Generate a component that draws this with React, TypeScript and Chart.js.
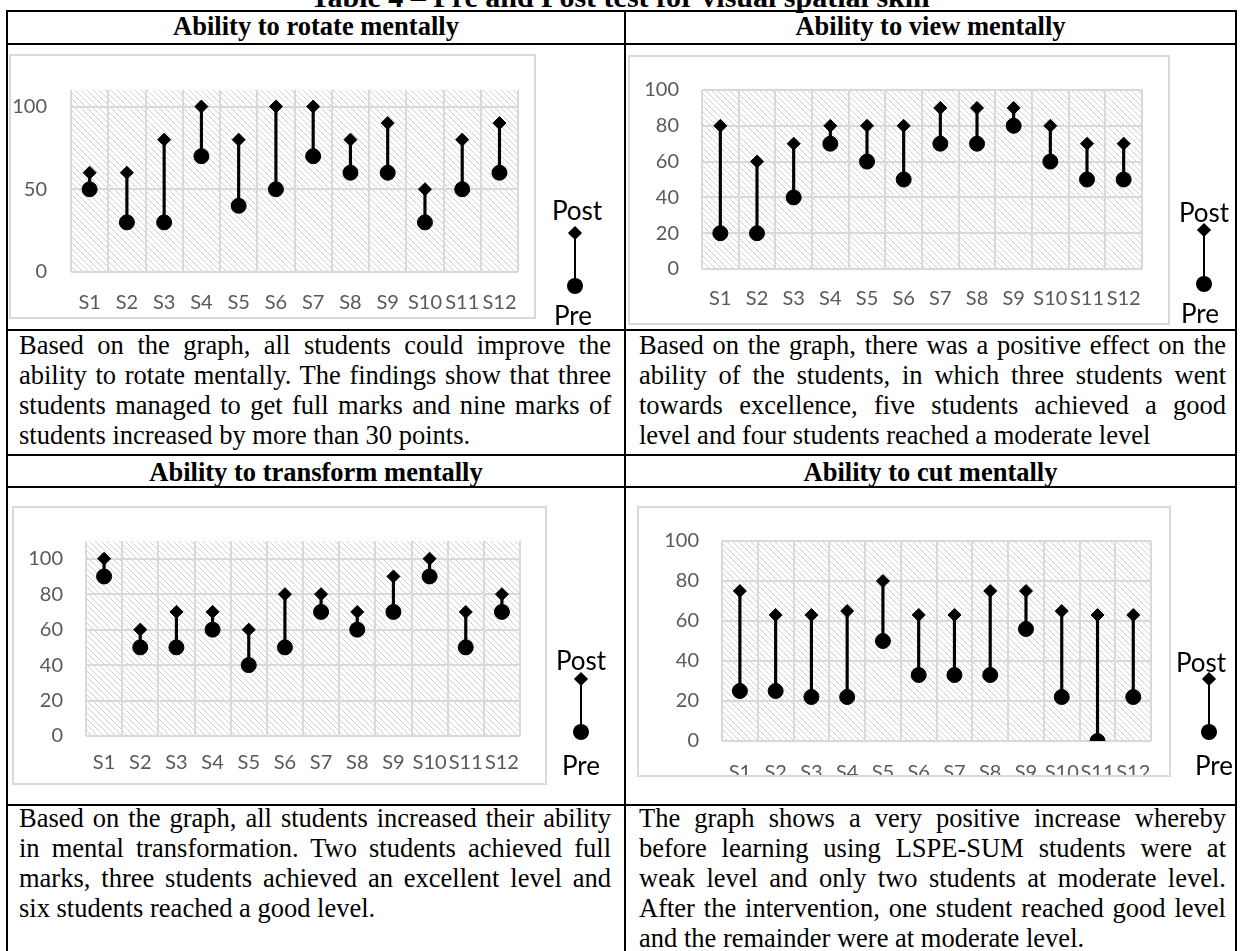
import React, { useEffect, useRef } from 'react';
import { Chart, registerables } from 'chart.js';
Chart.register(...registerables);

const STUDENTS = ['S1', 'S2', 'S3', 'S4', 'S5', 'S6', 'S7', 'S8', 'S9', 'S10', 'S11', 'S12'];
const ROTATE_PRE = [50, 30, 30, 70, 40, 50, 70, 60, 60, 30, 50, 60];
const ROTATE_POST = [60, 60, 80, 100, 80, 100, 100, 80, 90, 50, 80, 90];
const VIEW_PRE = [20, 20, 40, 70, 60, 50, 70, 70, 80, 60, 50, 50];
const VIEW_POST = [80, 60, 70, 80, 80, 80, 90, 90, 90, 80, 70, 70];
const TRANSFORM_PRE = [90, 50, 50, 60, 40, 50, 70, 60, 70, 90, 50, 70];
const TRANSFORM_POST = [100, 60, 70, 70, 60, 80, 80, 70, 90, 100, 70, 80];
const CUT_PRE = [25, 25, 22, 22, 50, 33, 33, 33, 56, 22, 0, 22];
const CUT_POST = [75, 63, 63, 65, 80, 63, 63, 75, 75, 65, 63, 63];

const CAPTION = 'Table 4 \u2013 Pre and Post test for visual spatial skill';
const HEAD_1 = ['Ability to rotate mentally', 'Ability to view mentally'];
const HEAD_2 = ['Ability to transform mentally', 'Ability to cut mentally'];
const TEXT_ROTATE = [
  'Based on the graph, all students could improve the',
  'ability to rotate mentally. The findings show that three',
  'students managed to get full marks and nine marks of',
  'students increased by more than 30 points.',
];
const TEXT_VIEW = [
  'Based on the graph, there was a positive effect on the',
  'ability of the students, in which three students went',
  'towards excellence, five students achieved a good',
  'level and four students reached a moderate level',
];
const TEXT_TRANSFORM = [
  'Based on the graph, all students increased their ability',
  'in mental transformation. Two students achieved full',
  'marks, three students achieved an excellent level and',
  'six students reached a good level.',
];
const TEXT_CUT = [
  'The graph shows a very positive increase whereby',
  'before learning using LSPE-SUM students were at',
  'weak level and only two students at moderate level.',
  'After the intervention, one student reached good level',
  'and the remainder were at moderate level.',
];

const TICK_FONT = { family: 'Lato', size: 20 };
const TICK_COLOR = '#595959';
const GRID_COLOR = '#d9d9d9';
const SERIF = '"Liberation Serif", "Times New Roman", serif';

const hatchPlugin = {
  id: 'hatchBg',
  beforeDraw(chart: any) {
    const { ctx, chartArea } = chart;
    if (!chartArea) return;
    const s = 6;
    const c = document.createElement('canvas');
    c.width = s;
    c.height = s;
    const g = c.getContext('2d')!;
    g.strokeStyle = '#d2d2d2';
    g.lineWidth = 1;
    g.beginPath();
    for (let k = -1; k <= 1; k++) {
      g.moveTo(k * s, 0);
      g.lineTo(k * s + s, s);
    }
    g.stroke();
    const pat = ctx.createPattern(c, 'repeat');
    ctx.save();
    ctx.fillStyle = '#ffffff';
    ctx.fillRect(0, 0, chart.width, chart.height);
    ctx.fillStyle = pat;
    ctx.fillRect(chartArea.left, chartArea.top, chartArea.right - chartArea.left, chartArea.bottom - chartArea.top);
    ctx.restore();
  },
};

type Box = { x: number; y: number; w: number; h: number };
type Area = { left: number; right: number; top: number; bottom: number };

function DumbbellChart(props: {
  pre: number[];
  post: number[];
  yMax: number;
  yStep: number;
  box: Box;
  canvasH?: number;
  area: Area;
  yLabelRight: number;
  xLabelY: number;
}) {
  const { pre, post, yMax, yStep, box, area, yLabelRight, xLabelY } = props;
  const ch = props.canvasH ?? box.h;
  const ref = useRef<HTMLCanvasElement>(null);
  useEffect(() => {
    const aLeft = area.left - box.x;
    const aRight = area.right - box.x;
    const aTop = area.top - box.y;
    const aBottom = area.bottom - box.y;
    const chart = new Chart(ref.current!, {
      type: 'bar',
      data: {
        labels: STUDENTS,
        datasets: [
          {
            type: 'bar',
            data: pre.map((p, i) => [p, post[i]]) as any,
            backgroundColor: '#000',
            borderWidth: 0,
            barThickness: 2.5,
            order: 3,
          } as any,
          {
            type: 'line',
            data: pre,
            showLine: false,
            pointStyle: 'circle',
            pointRadius: 7.5,
            pointBorderWidth: 1,
            backgroundColor: '#000',
            borderColor: '#000',
            order: 1,
          } as any,
          {
            type: 'line',
            data: post,
            showLine: false,
            pointStyle: 'rectRot',
            pointRadius: 6.5,
            pointBorderWidth: 1,
            backgroundColor: '#000',
            borderColor: '#000',
            order: 1,
          } as any,
        ],
      },
      options: {
        responsive: false,
        animation: false,
        events: [],
        layout: { padding: { left: 0, top: aTop, right: box.w - aRight, bottom: 0 } },
        plugins: { legend: { display: false }, tooltip: { enabled: false } },
        scales: {
          x: {
            grid: { color: GRID_COLOR, lineWidth: 2, offset: true, drawTicks: false },
            border: { display: false },
            ticks: {
              autoSkip: false,
              maxRotation: 0,
              minRotation: 0,
              padding: xLabelY - area.bottom - 12,
              font: TICK_FONT,
              color: TICK_COLOR,
            },
            afterFit: (s: any) => {
              s.height = ch - aBottom;
            },
          },
          y: {
            min: 0,
            max: yMax,
            grid: { color: GRID_COLOR, lineWidth: 2, drawTicks: false },
            border: { display: false },
            ticks: {
              stepSize: yStep,
              includeBounds: false,
              padding: area.left - yLabelRight,
              font: TICK_FONT,
              color: TICK_COLOR,
            },
            afterFit: (s: any) => {
              s.width = aLeft;
            },
          },
        },
      } as any,
      plugins: [hatchPlugin],
    });
    return () => chart.destroy();
  }, []);
  return (
    <>
      <div style={{ position: 'absolute', left: box.x, top: box.y, width: box.w, height: box.h, overflow: 'hidden', background: '#fff' }}>
        <canvas ref={ref} width={box.w} height={ch} style={{ display: 'block', width: box.w, height: ch }} />
      </div>
      <div
        style={{
          position: 'absolute',
          left: box.x,
          top: box.y,
          width: box.w,
          height: box.h,
          border: '2px solid #d9d9d9',
          boxSizing: 'border-box',
          pointerEvents: 'none',
        }}
      />
    </>
  );
}

function PrePostKey(props: { postX: number; preX: number; x: number; postY: number; diaY: number; circY: number; preY: number }) {
  const { postX, preX, x, postY, diaY, circY, preY } = props;
  const txt = (t: string, cx: number, cy: number) => (
    <div
      style={{
        position: 'absolute',
        left: cx - 40,
        width: 80,
        top: cy - 15,
        height: 30,
        lineHeight: '30px',
        textAlign: 'center',
        fontFamily: 'Lato',
        fontSize: 26,
        color: '#000',
      }}
    >
      {t}
    </div>
  );
  return (
    <>
      {txt('Post', postX, postY)}
      <div style={{ position: 'absolute', left: x - 1.25, width: 2.5, top: diaY, height: circY - diaY, background: '#000' }} />
      <div style={{ position: 'absolute', left: x - 5, top: diaY - 5, width: 10, height: 10, background: '#000', transform: 'rotate(45deg)' }} />
      <div style={{ position: 'absolute', left: x - 8, top: circY - 8, width: 16, height: 16, borderRadius: '50%', background: '#000' }} />
      {txt('Pre', preX, preY)}
    </>
  );
}

function Para(props: { x: number; y: number; w: number; lines: string[] }) {
  const { x, y, w, lines } = props;
  return (
    <div style={{ position: 'absolute', left: x, top: y, width: w, fontFamily: SERIF, fontSize: 26.5, lineHeight: '30px', color: '#000' }}>
      {lines.map((l, i) => {
        const last = i === lines.length - 1;
        return (
          <div key={i} style={{ textAlign: last ? 'left' : 'justify', textAlignLast: last ? 'left' : 'justify' } as any}>
            {l}
          </div>
        );
      })}
    </div>
  );
}

function Head(props: { x1: number; x2: number; y: number; text: string }) {
  return (
    <div
      style={{
        position: 'absolute',
        left: props.x1,
        width: props.x2 - props.x1,
        top: props.y,
        lineHeight: '30px',
        textAlign: 'center',
        fontFamily: SERIF,
        fontWeight: 'bold',
        fontSize: 26.5,
        color: '#000',
        whiteSpace: 'nowrap',
      }}
    >
      {props.text}
    </div>
  );
}

const HL = (y: number) => <div style={{ position: 'absolute', left: 6, width: 1231, top: y, height: 2, background: '#000' }} />;
const VL = (x: number) => <div style={{ position: 'absolute', left: x, width: 2, top: 10, height: 960, background: '#000' }} />;

export default function App() {
  return (
    <div style={{ position: 'absolute', left: 0, top: 0, width: 1240, height: 951, overflow: 'hidden', background: '#fff' }}>
      <div
        style={{
          position: 'absolute',
          left: 0,
          width: 1240,
          top: -18,
          lineHeight: '30px',
          textAlign: 'center',
          fontFamily: SERIF,
          fontWeight: 'bold',
          fontSize: 30,
          whiteSpace: 'nowrap',
        }}
      >
        {CAPTION}
      </div>
      {HL(10)}
      {HL(43)}
      {HL(329)}
      {HL(454)}
      {HL(486)}
      {HL(804)}
      {VL(6)}
      {VL(624)}
      {VL(1235)}

      <Head x1={8} x2={624} y={11} text={HEAD_1[0]} />
      <Head x1={626} x2={1235} y={11} text={HEAD_1[1]} />
      <Head x1={8} x2={624} y={457} text={HEAD_2[0]} />
      <Head x1={626} x2={1235} y={457} text={HEAD_2[1]} />

      <Para x={19} y={330} w={592} lines={TEXT_ROTATE} />
      <Para x={639} y={330} w={587} lines={TEXT_VIEW} />
      <Para x={19} y={803} w={592} lines={TEXT_TRANSFORM} />
      <Para x={639} y={803} w={587} lines={TEXT_CUT} />

      <DumbbellChart
        pre={ROTATE_PRE}
        post={ROTATE_POST}
        yMax={110}
        yStep={50}
        box={{ x: 9, y: 54, w: 527, h: 265 }}
        area={{ left: 71, right: 524, top: 89, bottom: 272 }}
        yLabelRight={47}
        xLabelY={303}
      />
      <PrePostKey postX={577} preX={573} x={575} postY={210} diaY={233} circY={286} preY={315} />

      <DumbbellChart
        pre={VIEW_PRE}
        post={VIEW_POST}
        yMax={100}
        yStep={20}
        box={{ x: 628, y: 55, w: 542, h: 270 }}
        area={{ left: 702, right: 1142, top: 74, bottom: 269 }}
        yLabelRight={679}
        xLabelY={299}
      />
      <PrePostKey postX={1204} preX={1200} x={1204} postY={212} diaY={230} circY={284} preY={313} />

      <DumbbellChart
        pre={TRANSFORM_PRE}
        post={TRANSFORM_POST}
        yMax={110}
        yStep={20}
        box={{ x: 12, y: 506, w: 535, h: 279 }}
        area={{ left: 86, right: 520, top: 526, bottom: 736 }}
        yLabelRight={63}
        xLabelY={763}
      />
      <PrePostKey postX={581} preX={581} x={581} postY={660} diaY={679} circY={732} preY={765} />

      <DumbbellChart
        pre={CUT_PRE}
        post={CUT_POST}
        yMax={100}
        yStep={20}
        box={{ x: 637, y: 506, w: 534, h: 271 }}
        canvasH={300}
        area={{ left: 722, right: 1154, top: 521, bottom: 741 }}
        yLabelRight={699}
        xLabelY={773}
      />
      <PrePostKey postX={1201} preX={1214} x={1209} postY={662} diaY={679} circY={732} preY={765} />
    </div>
  );
}
